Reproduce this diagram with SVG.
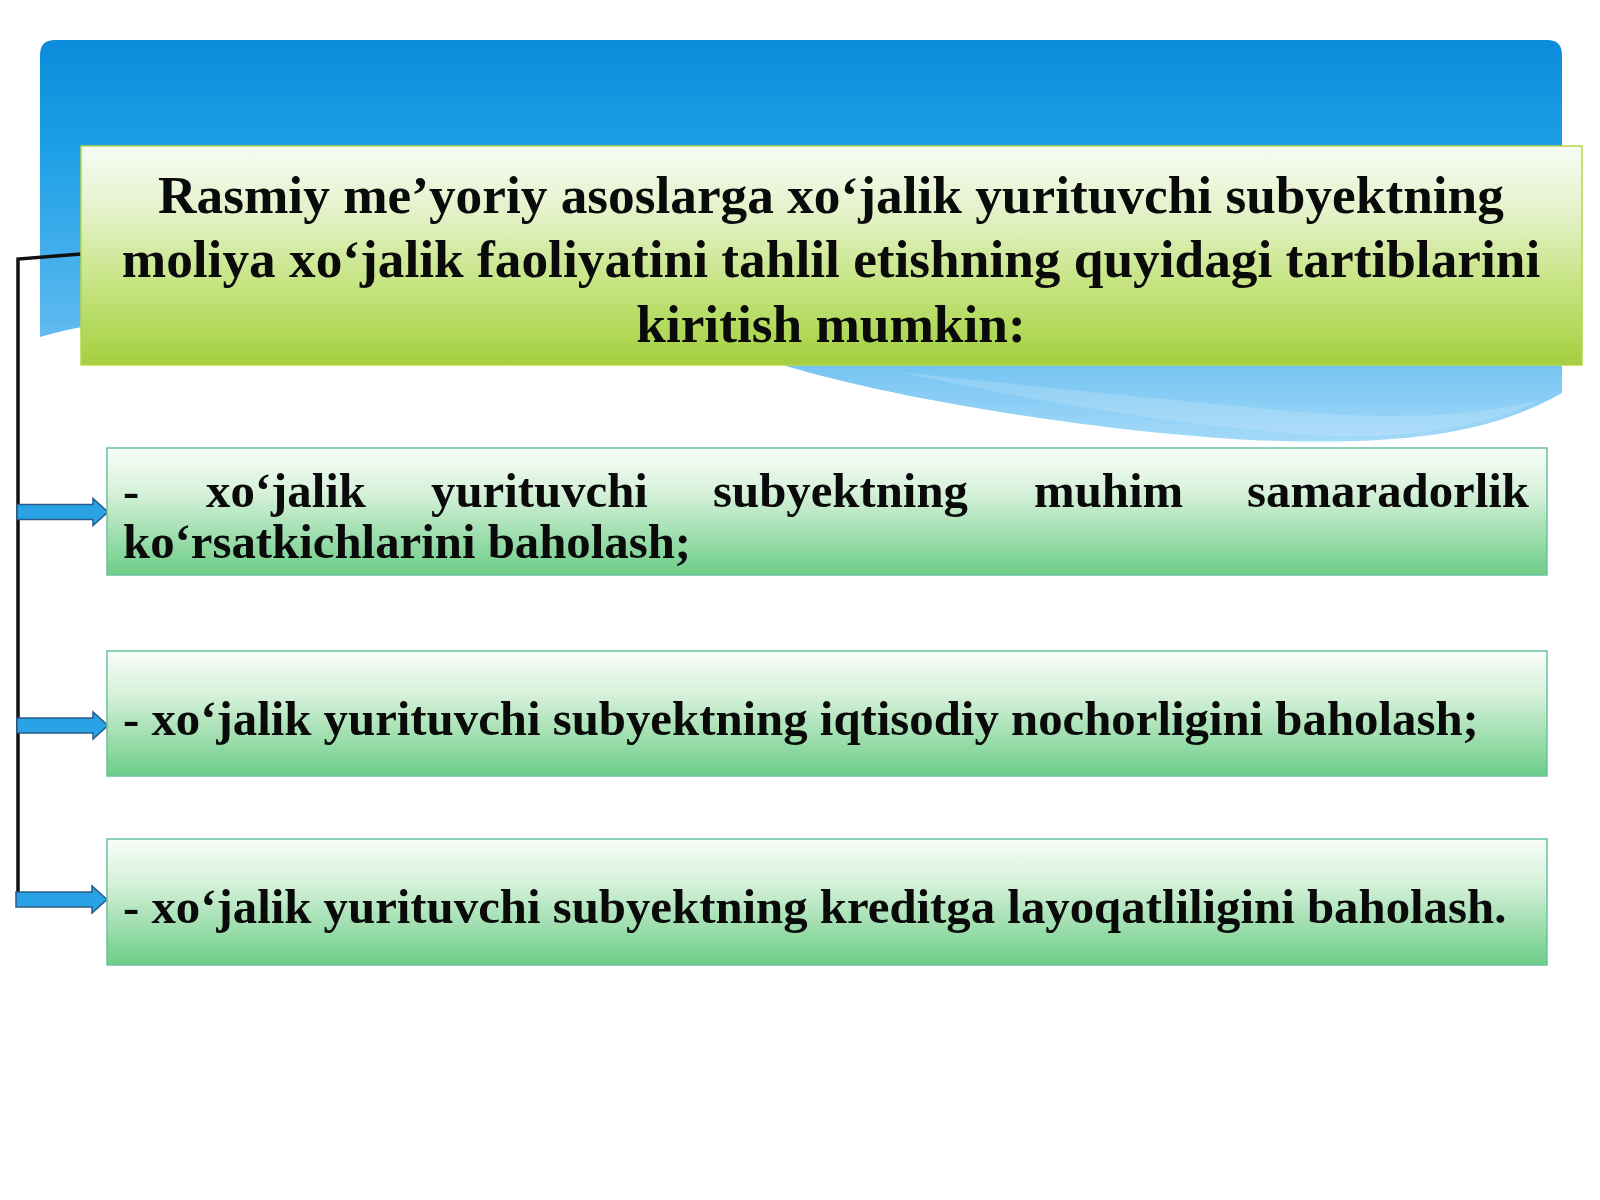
<svg xmlns="http://www.w3.org/2000/svg" width="1600" height="1200" viewBox="0 0 1600 1200">
  <style>
    .hdr { font-family: "Liberation Serif", "Times New Roman", serif; font-weight: bold; font-size: 53.3px; fill: #0a0a0a; }
    .itm { font-family: "Liberation Serif", "Times New Roman", serif; font-weight: bold; font-size: 48.8px; fill: #0a0a0a; }
    .box { fill: url(#itemGrad); stroke: #69c29e; stroke-width: 1.5; }
    .arrow { fill: #29a3e6; stroke: #2b5b88; stroke-width: 1.5; stroke-linejoin: miter; }
    .conn { fill: none; stroke: #111111; stroke-width: 3.5; stroke-linejoin: miter; }
  </style>
  <defs>
    <linearGradient id="skyGrad" gradientUnits="userSpaceOnUse" x1="0" y1="40" x2="0" y2="441">
      <stop offset="0" stop-color="#0a8cdb"/>
      <stop offset="0.27" stop-color="#1d9fe6"/>
      <stop offset="0.7" stop-color="#5ab8ef"/>
      <stop offset="1" stop-color="#a3d9f8"/>
    </linearGradient>
    <linearGradient id="hdrGrad" x1="0" y1="0" x2="0" y2="1">
      <stop offset="0" stop-color="#f7fbf5"/>
      <stop offset="0.3" stop-color="#e4f2c9"/>
      <stop offset="0.65" stop-color="#c4e37e"/>
      <stop offset="1" stop-color="#a3cf3e"/>
    </linearGradient>
    <linearGradient id="itemGrad" x1="0" y1="0" x2="0" y2="1">
      <stop offset="0" stop-color="#f8fdf8"/>
      <stop offset="0.35" stop-color="#d6f1da"/>
      <stop offset="1" stop-color="#6ccd87"/>
    </linearGradient>
  </defs>

  <rect x="0" y="0" width="1600" height="1200" fill="#ffffff"/>

  <!-- sky background panel -->
  <g id="sky">
    <path d="M40,55 Q40,40 55,40 L1547,40 Q1562,40 1562,55 L1562,393 C1480,440 1380,445 1250,440 C1100,432 900,400 786,366 C600,300 200,290 40,337 Z" fill="url(#skyGrad)"/>
    <path d="M900,372 C1050,405 1200,428 1330,436 C1420,438 1490,425 1540,400 C1470,418 1380,420 1280,410 C1150,398 1020,385 900,372 Z" fill="#ffffff" opacity="0.15"/>
  </g>

  <!-- connectors -->
  <g id="connectors">
    <path class="conn" d="M81,254 L18,259 L18,893"/>
    <path class="arrow" d="M17,504.5 L93,504.5 L93,498.5 L108,512 L93,525.5 L93,519.5 L17,519.5 Z"/>
    <path class="arrow" d="M17,718 L93,718 L93,712 L108,725.5 L93,739 L93,733 L17,733 Z"/>
    <path class="arrow" d="M16,892 L92,892 L92,886 L107,899.5 L92,913 L92,907 L16,907 Z"/>
  </g>

  <!-- header node -->
  <g id="header">
    <rect x="81" y="146" width="1501" height="219" fill="url(#hdrGrad)" stroke="#b7d647" stroke-width="1.5"/>
    <text class="hdr" x="831" y="213" text-anchor="middle">Rasmiy me’yoriy asoslarga xo‘jalik yurituvchi subyektning</text>
    <text class="hdr" x="831" y="277" text-anchor="middle">moliya xo‘jalik faoliyatini tahlil etishning quyidagi tartiblarini</text>
    <text class="hdr" x="831" y="342" text-anchor="middle">kiritish mumkin:</text>
  </g>

  <!-- item 1 -->
  <g id="item1">
    <rect class="box" x="107" y="448" width="1440" height="127"/>
    <text class="itm" x="123" y="507">-</text>
    <text class="itm" x="206" y="507">xo‘jalik</text>
    <text class="itm" x="431" y="507">yurituvchi</text>
    <text class="itm" x="713" y="507">subyektning</text>
    <text class="itm" x="1034" y="507">muhim</text>
    <text class="itm" x="1529" y="507" text-anchor="end">samaradorlik</text>
    <text class="itm" x="123" y="558">ko‘rsatkichlarini baholash;</text>
  </g>

  <!-- item 2 -->
  <g id="item2">
    <rect class="box" x="107" y="651" width="1440" height="125"/>
    <text class="itm" x="123" y="735">- xo‘jalik yurituvchi subyektning iqtisodiy nochorligini baholash;</text>
  </g>

  <!-- item 3 -->
  <g id="item3">
    <rect class="box" x="107" y="839" width="1440" height="126"/>
    <text class="itm" x="123" y="923">- xo‘jalik yurituvchi subyektning kreditga layoqatliligini baholash.</text>
  </g>
</svg>
